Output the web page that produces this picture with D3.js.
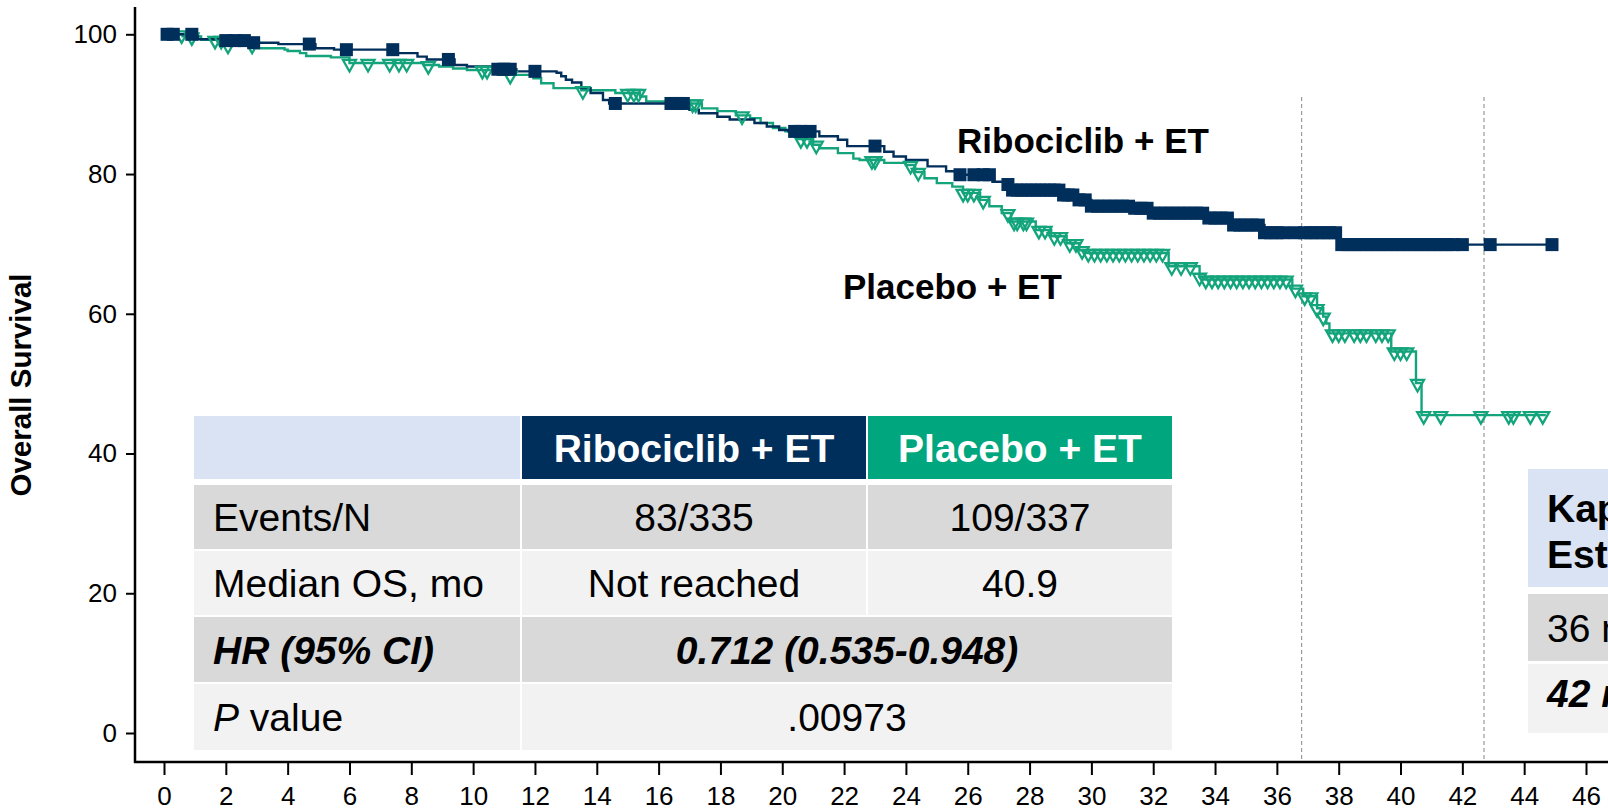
<!DOCTYPE html>
<html>
<head>
<meta charset="utf-8">
<script src="https://cdn.jsdelivr.net/npm/d3@7"></script>
<style>
  body { margin: 0; background: #fff; }
  svg { display: block; font-family: "Liberation Sans", Arial, sans-serif; }
  .axis text { font-size: 26px; fill: #000; }
  .axis line { stroke: #000; stroke-width: 2; }
  .Frame { stroke: #000; stroke-width: 2.5; }
  .CurveLabel { font-size: 35px; font-weight: bold; fill: #000; }
  .Cell { font-size: 39px; fill: #000; }
</style>
</head>
<body>
<div id="ChartContainer"></div>
<script>
var xTicks = [0, 2, 4, 6, 8, 10, 12, 14, 16, 18, 20, 22, 24, 26, 28, 30, 32, 34, 36, 38, 40, 42, 44, 46]
var yTicks = [0, 20, 40, 60, 80, 100]
var landmarkMonths = [36.8, 42.7]

// [month, survival % after the drop]
var riboSteps = [
  [0, 100], [1.1, 99.3], [1.9, 99.1], [2.9, 98.8], [3.7, 98.6], [4.9, 98.0], [5.5, 97.8],
  [7.5, 97.3], [8.2, 96.8], [8.5, 96.4], [9.4, 95.6], [9.8, 95.4], [10.65, 95.0], [11.4, 94.7],
  [12.7, 94.5], [12.85, 94.0], [13.0, 93.5], [13.2, 93.1], [13.5, 92.3], [13.8, 91.6], [14.2, 90.6],
  [14.4, 90.1], [17.0, 89.2], [17.3, 88.7], [17.9, 88.2], [18.3, 87.8], [19.1, 87.3], [19.5, 86.8],
  [19.9, 86.3], [20.2, 86.1], [21.2, 85.4], [21.8, 84.9], [22.1, 84.0], [23.3, 83.2], [23.6, 82.5],
  [24.0, 82.0], [24.7, 81.1], [25.3, 80.4], [25.6, 79.9], [26.8, 78.9], [27.2, 78.5], [27.4, 77.7],
  [29.1, 77.0], [29.5, 76.3], [30.0, 75.4], [31.3, 75.1], [32.0, 74.4], [33.7, 73.7], [34.5, 72.7],
  [35.6, 71.6], [38.0, 69.9]
]
var riboEnd = 44.9
var riboCensor = [
  0.1, 0.3, 0.9, 2.0, 2.3, 2.6, 2.9, 4.7, 5.9, 7.4, 9.2, 10.8, 11.0, 11.2, 12.0, 14.6, 16.4, 16.6,
  16.8, 20.4, 20.6, 20.9, 23.0, 25.75, 26.2, 26.5, 26.7, 27.3, 27.45, 27.6, 27.75, 27.9, 28.05,
  28.2, 28.35, 28.5, 28.65, 28.8, 28.95, 29.1, 29.25, 29.4, 29.6, 29.8, 30.0, 30.2, 30.4, 30.6,
  30.8, 31.0, 31.2, 31.4, 31.6, 31.8, 32.0, 32.2, 32.4, 32.6, 32.8, 33.0, 33.2, 33.4, 33.6, 33.8,
  34.0, 34.2, 34.4, 34.6, 34.8, 35.0, 35.2, 35.4, 35.6, 35.8, 36.0, 36.2, 36.6, 36.9, 37.1, 37.3,
  37.5, 37.7, 37.9, 38.1, 38.3, 38.5, 38.7, 38.9, 39.1, 39.3, 39.5, 39.7, 39.9, 40.1, 40.3, 40.5,
  40.7, 40.9, 41.1, 41.3, 41.5, 41.7, 42.0, 42.9, 44.9
]

var placeboSteps = [
  [0, 100], [0.6, 99.7], [1.2, 99.2], [2.0, 98.5], [3.0, 98.0], [3.9, 97.8], [4.0, 97.6], [4.4, 97.3],
  [4.6, 96.9], [5.4, 96.7], [6.0, 95.9], [8.4, 95.6], [8.9, 95.4], [9.35, 95.1], [9.8, 94.9],
  [10.8, 94.2], [11.95, 93.7], [12.2, 93.0], [12.6, 92.3], [13.5, 92.0], [14.6, 91.6], [15.4, 91.1],
  [15.6, 90.4], [16.4, 90.1], [17.4, 89.4], [17.9, 89.0], [18.5, 88.4], [18.96, 88.0], [19.3, 87.3],
  [19.7, 86.6], [20.1, 86.1], [20.5, 85.0], [21.0, 84.2], [21.2, 83.7], [21.8, 83.0], [22.3, 82.2],
  [22.5, 82.0], [23.3, 81.6], [24.0, 81.3], [24.3, 80.3], [24.6, 79.4], [25.0, 78.7], [25.5, 78.2],
  [25.85, 77.3], [26.4, 76.3], [26.7, 75.4], [27.1, 74.4], [27.4, 73.2], [28.2, 72.0], [28.7, 71.1],
  [29.2, 70.1], [29.6, 69.1], [29.8, 68.7], [32.5, 66.8], [33.5, 65.3], [33.6, 64.9], [36.5, 63.6],
  [36.85, 62.5], [37.3, 60.8], [37.5, 59.6], [37.6, 58.6], [37.7, 57.2], [39.7, 54.6], [40.5, 50.1],
  [40.68, 45.5]
]
var placeboEnd = 44.7
var placeboCensor = [
  0.57, 0.9, 1.65, 1.85, 2.07, 2.85, 6.0, 6.6, 7.3, 7.6, 7.85, 8.55, 10.3, 10.45, 11.2, 13.55,
  15.0, 15.2, 15.35, 17.1, 17.2, 18.7, 20.6, 20.8, 21.1, 22.9, 23.0, 24.15, 24.4, 25.85, 26.0,
  26.2, 26.5, 27.3, 27.5, 27.6, 27.8, 27.9, 28.3, 28.5, 28.8, 29.0, 29.3, 29.5, 29.7, 29.9, 30.1,
  30.3, 30.5, 30.7, 30.9, 31.1, 31.3, 31.5, 31.7, 31.9, 32.1, 32.3, 32.6, 32.9, 33.2, 33.5, 33.7,
  33.9, 34.1, 34.3, 34.5, 34.7, 34.9, 35.1, 35.3, 35.5, 35.7, 35.9, 36.1, 36.3, 36.6, 36.9, 37.1,
  37.3, 37.5, 37.8, 38.0, 38.2, 38.5, 38.7, 38.9, 39.2, 39.4, 39.6, 39.8, 40.0, 40.2, 40.55, 40.75,
  41.3, 42.6, 43.5, 43.65, 44.2, 44.6
]

var tableColumns = ["", "Ribociclib + ET", "Placebo + ET"]
var tableRowLabels = ["Events/N", "Median OS, mo", "HR (95% CI)", "P value"]
var riboStats = ["83/335", "Not reached"]
var placeboStats = ["109/337", "40.9"]
var hrText = "0.712 (0.535-0.948)"
var pText = ".00973"
var kmHeader = ["Kaplan-Meier", "Estimate"]
var kmRows = ["36 months", "42 months"]

var navy = "#002f5c"
var green = "#00a67e"
var lineGreen = "#14a47c"

var fullWidth = 1608
var fullHeight = 812

var svg = d3.select("#ChartContainer").append("svg")
  .attr("width", fullWidth)
  .attr("height", fullHeight)

var x = d3.scaleLinear().domain([0, 46]).range([164, 1586])
var y = d3.scaleLinear().domain([0, 100]).range([733, 34.3])

var axisX = 135
var axisY = 762

// landmark lines
svg.selectAll(".Landmark")
  .data(landmarkMonths)
  .enter().append("line")
  .attr("class", "Landmark")
  .attr("x1", d => x(d)).attr("x2", d => x(d))
  .attr("y1", 97).attr("y2", axisY)
  .attr("stroke", "#9a9a9a")
  .attr("stroke-width", 1.2)
  .attr("stroke-dasharray", "4,3")

// axes
svg.append("g")
  .attr("class", "axis axis-x")
  .attr("transform", `translate(0,${axisY})`)
  .call(d3.axisBottom(x).tickValues(xTicks).tickSize(13).tickPadding(12))
  .call(g => g.select(".domain").remove())

svg.append("g")
  .attr("class", "axis axis-y")
  .attr("transform", `translate(${axisX},0)`)
  .call(d3.axisLeft(y).tickValues(yTicks).tickSize(9).tickPadding(9))
  .call(g => g.select(".domain").remove())

svg.append("line").attr("class", "Frame")
  .attr("x1", axisX).attr("x2", axisX).attr("y1", 7).attr("y2", axisY + 1)
svg.append("line").attr("class", "Frame")
  .attr("x1", axisX - 1).attr("x2", fullWidth).attr("y1", axisY).attr("y2", axisY)

// y-axis label
svg.append("text")
  .attr("transform", "translate(31,385) rotate(-90)")
  .attr("text-anchor", "middle")
  .style("font-size", "29.5px")
  .style("font-weight", "bold")
  .text("Overall Survival")

// KM curves
var bisect = d3.bisector(d => d[0]).right
function survivalAt(steps, t) {
  return steps[Math.max(0, bisect(steps, t) - 1)][1]
}
var stepLine = d3.line()
  .x(d => x(d[0]))
  .y(d => y(d[1]))
  .curve(d3.curveStepAfter)

function drawCurve(steps, end, color) {
  var pts = steps.concat([[end, steps[steps.length - 1][1]]])
  svg.append("path")
    .datum(pts)
    .attr("fill", "none")
    .attr("stroke", color)
    .attr("stroke-width", 2.4)
    .attr("d", stepLine)
}

drawCurve(placeboSteps, placeboEnd, lineGreen)
drawCurve(riboSteps, riboEnd, navy)

svg.selectAll(".PlaceboCensor")
  .data(placeboCensor)
  .enter().append("path")
  .attr("class", "PlaceboCensor")
  .attr("transform", d => `translate(${x(d)},${y(survivalAt(placeboSteps, d))})`)
  .attr("d", "M-6.5,-3 L6.5,-3 L0,8.5 Z")
  .attr("fill", "none")
  .attr("stroke", lineGreen)
  .attr("stroke-width", 2.3)

svg.selectAll(".RiboCensor")
  .data(riboCensor)
  .enter().append("rect")
  .attr("class", "RiboCensor")
  .attr("x", d => x(d) - 6.5)
  .attr("y", d => y(survivalAt(riboSteps, d)) - 6.5)
  .attr("width", 13)
  .attr("height", 13)
  .attr("fill", navy)

// curve labels
svg.append("text").attr("class", "CurveLabel")
  .attr("x", 957).attr("y", 153)
  .text(tableColumns[1])
svg.append("text").attr("class", "CurveLabel")
  .attr("x", 843).attr("y", 299)
  .text(tableColumns[2])

// stats table
var cols = [[194, 520], [522, 866], [868, 1172]]
var rows = [[416, 479], [485, 549], [551, 615], [617, 682], [684, 750]]
var headerFill = ["#dae3f3", navy, green]
var rowFill = ["#d9d9d9", "#f2f2f2", "#d9d9d9", "#f2f2f2"]
var table = svg.append("g").attr("class", "StatsTable")

function cell(x0, x1, r, fill) {
  table.append("rect")
    .attr("x", x0).attr("y", r[0])
    .attr("width", x1 - x0).attr("height", r[1] - r[0])
    .attr("fill", fill)
}
function mid(r) { return (r[0] + r[1]) / 2 + 14 }

cols.forEach((c, i) => {
  cell(c[0], c[1], rows[0], headerFill[i])
  if (tableColumns[i]) {
    table.append("text").attr("class", "Cell")
      .attr("x", (c[0] + c[1]) / 2).attr("y", mid(rows[0]))
      .attr("text-anchor", "middle")
      .style("fill", "#fff").style("font-weight", "bold")
      .text(tableColumns[i])
  }
})

tableRowLabels.forEach((label, i) => {
  var r = rows[i + 1]
  cell(cols[0][0], cols[0][1], r, rowFill[i])
  if (i < 2) {
    cell(cols[1][0], cols[1][1], r, rowFill[i])
    cell(cols[2][0], cols[2][1], r, rowFill[i])
  } else {
    cell(cols[1][0], cols[2][1], r, rowFill[i])
  }
  var t = table.append("text").attr("class", "Cell").attr("x", 213).attr("y", mid(r))
  if (i === 2) {
    t.style("font-weight", "bold").style("font-style", "italic").text(label)
  } else if (i === 3) {
    t.append("tspan").style("font-style", "italic").text(label.split(" ")[0])
    t.append("tspan").text(" " + label.split(" ")[1])
  } else {
    t.text(label)
  }
})

;[riboStats, placeboStats].forEach((vals, j) => {
  vals.forEach((v, i) => {
    table.append("text").attr("class", "Cell")
      .attr("x", (cols[j + 1][0] + cols[j + 1][1]) / 2).attr("y", mid(rows[i + 1]))
      .attr("text-anchor", "middle")
      .text(v)
  })
})

table.append("text").attr("class", "Cell")
  .attr("x", (cols[1][0] + cols[2][1]) / 2).attr("y", mid(rows[3]))
  .attr("text-anchor", "middle")
  .style("font-weight", "bold").style("font-style", "italic")
  .text(hrText)
table.append("text").attr("class", "Cell")
  .attr("x", (cols[1][0] + cols[2][1]) / 2).attr("y", mid(rows[4]))
  .attr("text-anchor", "middle")
  .text(pText)

// landmark table, cut off by the right edge as in the source slide
var km = svg.append("g").attr("class", "KmTable")
km.append("rect").attr("x", 1528).attr("y", 469).attr("width", 200).attr("height", 118).attr("fill", "#dae3f3")
km.append("rect").attr("x", 1528).attr("y", 594).attr("width", 200).attr("height", 67).attr("fill", "#d9d9d9")
km.append("rect").attr("x", 1528).attr("y", 664).attr("width", 200).attr("height", 69).attr("fill", "#f2f2f2")
kmHeader.forEach((h, i) => {
  km.append("text").attr("class", "Cell")
    .attr("x", 1547).attr("y", 522 + i * 46)
    .style("font-weight", "bold")
    .text(h)
})
km.append("text").attr("class", "Cell").attr("x", 1547).attr("y", 642).text(kmRows[0])
km.append("text").attr("class", "Cell").attr("x", 1547).attr("y", 707)
  .style("font-weight", "bold").style("font-style", "italic")
  .text(kmRows[1])
</script>
</body>
</html>
